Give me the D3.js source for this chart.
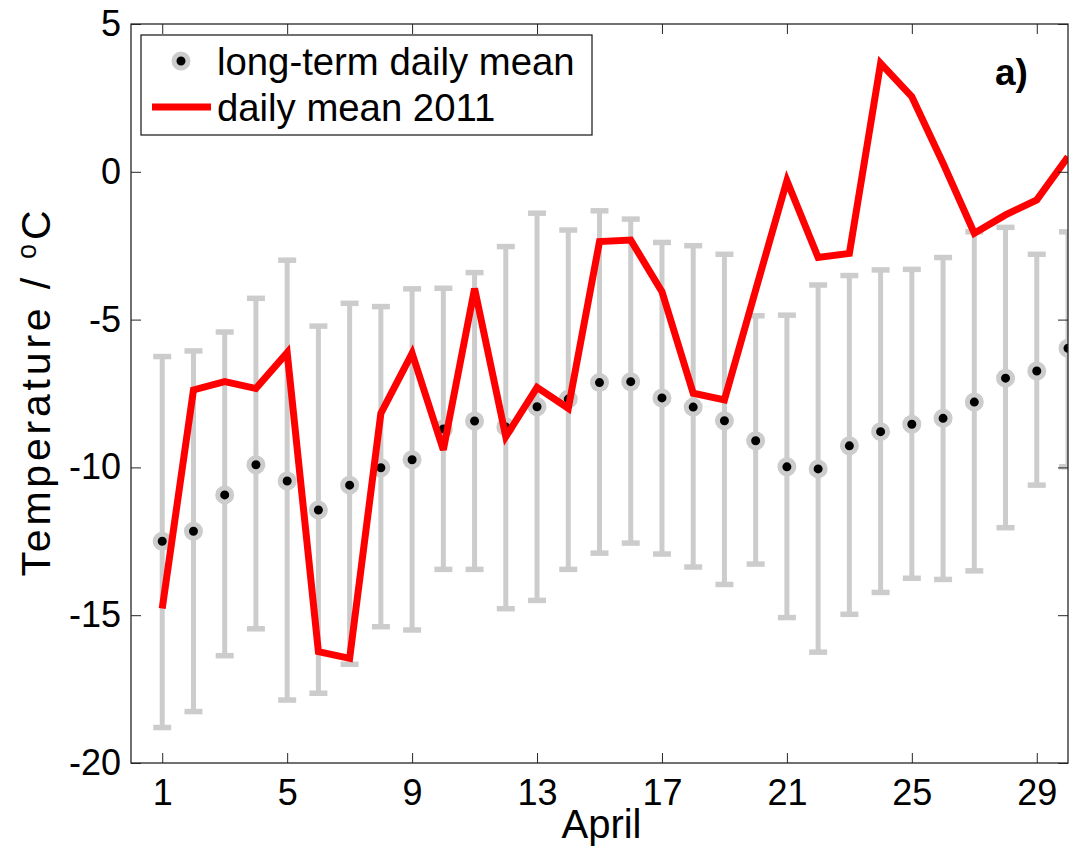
<!DOCTYPE html>
<html>
<head>
<meta charset="utf-8">
<script src="https://cdn.jsdelivr.net/npm/d3@7"></script>
<style>
    body { margin: 0; background: #fff; }
    text { font-family: "Liberation Sans", Arial, Helvetica, sans-serif; }
</style>
</head>
<body>
<div id="chart"></div>
<script>
// days of April
let days = [1, 2, 3, 4, 5, 6, 7, 8, 9, 10, 11, 12, 13, 14, 15, 16, 17, 18, 19, 20,
    21, 22, 23, 24, 25, 26, 27, 28, 29, 30];
// long-term daily mean and its spread
let longTermMean = [-12.5, -12.16, -10.93, -9.91, -10.46, -11.44, -10.6, -10.01, -9.74, -8.7,
    -8.43, -8.63, -7.95, -7.69, -7.13, -7.1, -7.65, -7.96, -8.42, -9.1,
    -9.98, -10.05, -9.27, -8.79, -8.54, -8.34, -7.79, -6.98, -6.74, -5.97];
let upperBar = [-6.25, -6.06, -5.42, -4.28, -2.99, -5.22, -4.45, -4.56, -3.96, -3.94,
    -3.41, -2.53, -1.4, -1.97, -1.32, -1.6, -2.39, -2.5, -2.79, -4.87,
    -4.85, -3.83, -3.51, -3.32, -3.3, -2.9, -2.03, -1.88, -2.79, -2.03];
let lowerBar = [-18.8, -18.26, -16.37, -15.46, -17.87, -17.64, -16.66, -15.39, -15.5, -13.45,
    -13.45, -14.78, -14.5, -13.45, -12.9, -12.56, -12.93, -13.37, -13.96, -13.27,
    -15.08, -16.25, -14.97, -14.23, -13.75, -13.79, -13.5, -12.04, -10.6, -9.98];
// daily mean 2011
let mean2011 = [-14.77, -7.38, -7.1, -7.33, -6.12, -16.23, -16.46, -8.17, -6.14, -9.41,
    -3.95, -8.96, -7.29, -8.0, -2.36, -2.31, -4.06, -7.49, -7.72, -4.0,
    -0.3, -2.9, -2.76, 3.67, 2.54, 0.29, -2.08, -1.46, -0.95, 0.51];
// tick labels
let xTicks = [1, 5, 9, 13, 17, 21, 25, 29];
let yTicks = [5, 0, -5, -10, -15, -20];

let W = 1072, H = 856;
let margin = {top: 24, right: 4, bottom: 93, left: 131},
    width = W - margin.left - margin.right,
    height = H - margin.top - margin.bottom;

let grey = "#cccccc";

let xScale = d3.scaleLinear().domain([0, 30]).range([0, width]);
let yScale = d3.scaleLinear().domain([-20, 5]).range([height, 0]);

let svg = d3.select("#chart").append("svg")
    .attr("width", W)
    .attr("height", H);

svg.append("defs").append("clipPath").attr("id", "plotClip")
    .append("rect").attr("width", width).attr("height", height);

let g = svg.append("g")
    .attr("transform", "translate(" + margin.left + "," + margin.top + ")");

let data = days.map(function (d, i) {
    return {day: d, mean: longTermMean[i], hi: upperBar[i], lo: lowerBar[i], y2011: mean2011[i]};
});

let plot = g.append("g").attr("clip-path", "url(#plotClip)");

// error bars
let bars = plot.append("g").selectAll("g")
    .data(data)
    .enter().append("g");
bars.append("line")
    .attr("x1", function (d) { return xScale(d.day); })
    .attr("x2", function (d) { return xScale(d.day); })
    .attr("y1", function (d) { return yScale(d.hi); })
    .attr("y2", function (d) { return yScale(d.lo); })
    .style("stroke", grey).style("stroke-width", 5);
["hi", "lo"].forEach(function (k) {
    bars.append("line")
        .attr("x1", function (d) { return xScale(d.day) - 9; })
        .attr("x2", function (d) { return xScale(d.day) + 9; })
        .attr("y1", function (d) { return yScale(d[k]); })
        .attr("y2", function (d) { return yScale(d[k]); })
        .style("stroke", grey).style("stroke-width", 5.5);
});

// long-term mean markers
plot.append("g").selectAll("circle")
    .data(data)
    .enter().append("circle")
    .attr("cx", function (d) { return xScale(d.day); })
    .attr("cy", function (d) { return yScale(d.mean); })
    .attr("r", 7)
    .style("fill", "#000")
    .style("stroke", grey)
    .style("stroke-width", 5);

// 2011 line
let line = d3.line()
    .x(function (d) { return xScale(d.day); })
    .y(function (d) { return yScale(d.y2011); });
plot.append("path")
    .datum(data)
    .attr("d", line)
    .style("fill", "none")
    .style("stroke", "#ff0000")
    .style("stroke-width", 7)
    .style("stroke-linejoin", "miter");

// axes box with inward ticks on all sides
let tickLen = 10;
let axisColor = "#262626";
let plainFormat = function (d) { return String(d); };
g.append("g")
    .attr("transform", "translate(0," + height + ")")
    .call(d3.axisBottom(xScale).tickValues(xTicks).tickSizeInner(-tickLen).tickSizeOuter(0)
        .tickPadding(16).tickFormat(plainFormat))
    .call(function (a) { a.selectAll("text").style("font-size", "36px").attr("fill", "#000"); });
g.append("g")
    .call(d3.axisTop(xScale).tickValues(xTicks).tickSizeInner(-tickLen).tickSizeOuter(0).tickFormat(""));
g.append("g")
    .call(d3.axisLeft(yScale).tickValues(yTicks).tickSizeInner(-tickLen).tickSizeOuter(0)
        .tickPadding(10).tickFormat(plainFormat))
    .call(function (a) { a.selectAll("text").style("font-size", "36px").attr("fill", "#000"); });
g.append("g")
    .attr("transform", "translate(" + width + ",0)")
    .call(d3.axisRight(yScale).tickValues(yTicks).tickSizeInner(-tickLen).tickSizeOuter(0).tickFormat(""));
g.selectAll(".tick line").style("stroke", axisColor);
g.selectAll(".domain").remove();
g.append("rect")
    .attr("width", width).attr("height", height)
    .style("fill", "none").style("stroke", axisColor).style("stroke-width", 1.3);

// axis labels
svg.append("text")
    .attr("x", margin.left + width / 2 + 2)
    .attr("y", 838)
    .style("text-anchor", "middle")
    .style("font-size", "40px")
    .text("April");

let yl = svg.append("text")
    .attr("transform", "translate(50," + (margin.top + height / 2) + ") rotate(-90)")
    .attr("textLength", 366)
    .attr("lengthAdjust", "spacing")
    .style("text-anchor", "middle")
    .style("font-size", "41px");
yl.append("tspan").text("Temperature / ");
yl.append("tspan").attr("dy", -14).style("font-size", "27px").text("o");
yl.append("tspan").attr("dy", 14).text("C");

// panel letter
svg.append("text")
    .attr("x", 995).attr("y", 85)
    .style("font-size", "37px")
    .style("font-weight", "bold")
    .text("a)");

// legend
let leg = svg.append("g");
leg.append("rect")
    .attr("x", 141).attr("y", 35).attr("width", 451).attr("height", 100)
    .style("fill", "#fff").style("stroke", axisColor).style("stroke-width", 1.3);
leg.append("circle")
    .attr("cx", 181).attr("cy", 61).attr("r", 7)
    .style("fill", "#000").style("stroke", grey).style("stroke-width", 5);
leg.append("line")
    .attr("x1", 152).attr("x2", 211).attr("y1", 107).attr("y2", 107)
    .style("stroke", "#ff0000").style("stroke-width", 7);
leg.append("text")
    .attr("x", 217).attr("y", 75)
    .style("font-size", "38.3px")
    .text("long-term daily mean");
leg.append("text")
    .attr("x", 217).attr("y", 121)
    .style("font-size", "38.3px")
    .text("daily mean 2011");
</script>
</body>
</html>
